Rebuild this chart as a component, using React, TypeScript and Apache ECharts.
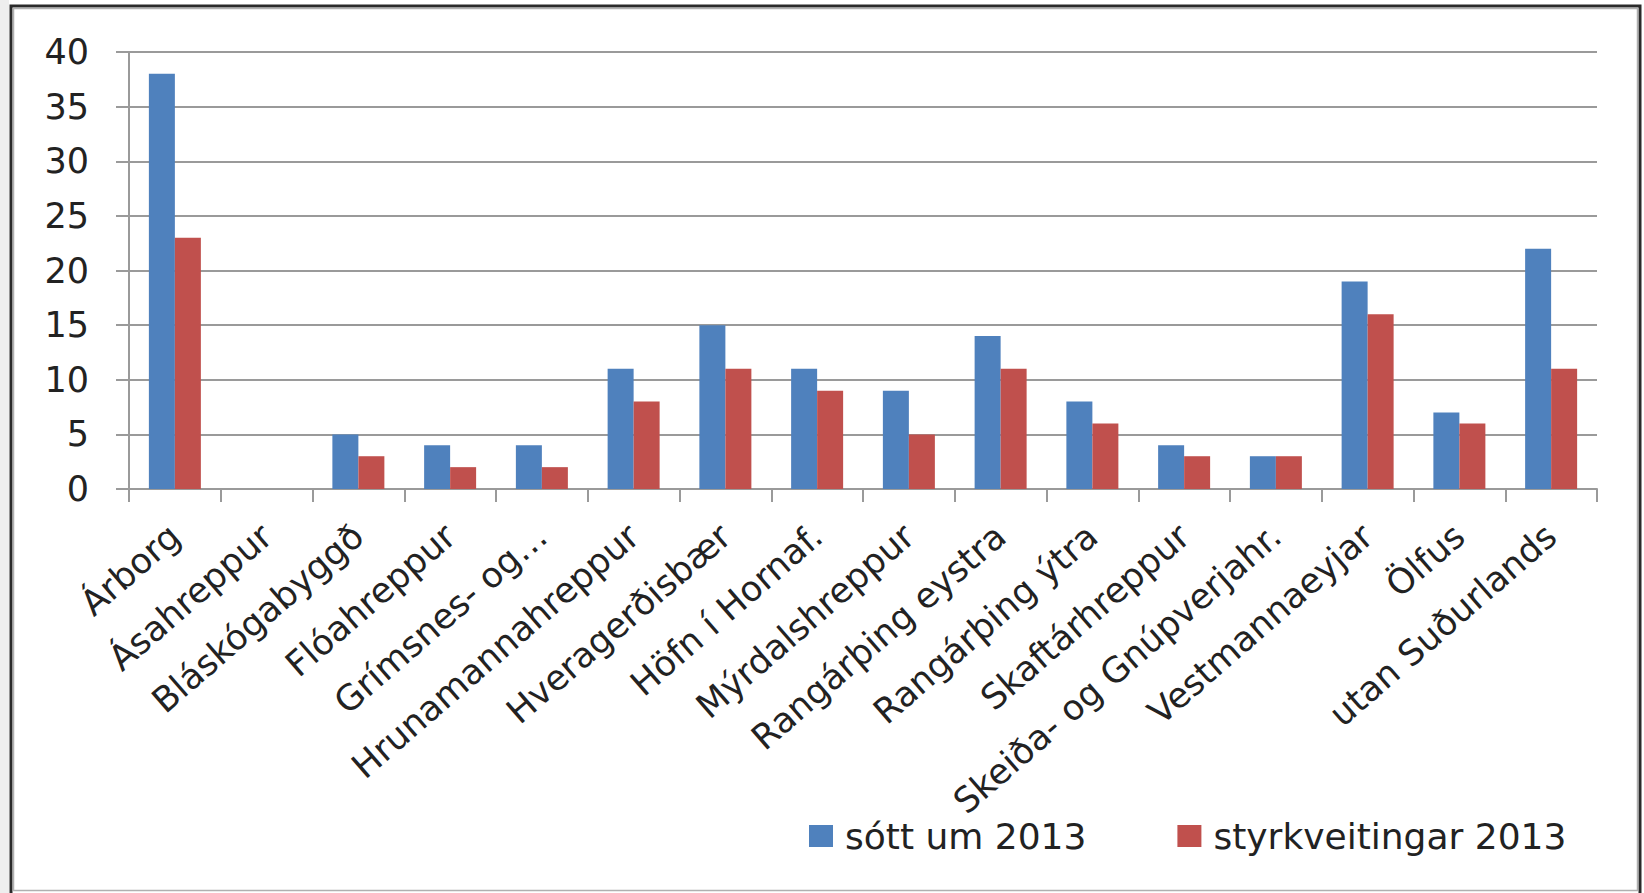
import React, { useEffect, useRef } from "react";
import * as echarts from "echarts";

const categories = [
  "Árborg",
  "Ásahreppur",
  "Bláskógabyggð",
  "Flóahreppur",
  "Grímsnes- og…",
  "Hrunamannahreppur",
  "Hveragerðisbær",
  "Höfn í Hornaf.",
  "Mýrdalshreppur",
  "Rangárþing eystra",
  "Rangárþing ýtra",
  "Skaftárhreppur",
  "Skeiða- og Gnúpverjahr.",
  "Vestmannaeyjar",
  "Ölfus",
  "utan Suðurlands",
];

const sottUm2013 = [38, 0, 5, 4, 4, 11, 15, 11, 9, 14, 8, 4, 3, 19, 7, 22];
const styrkveitingar2013 = [23, 0, 3, 2, 2, 8, 11, 9, 5, 11, 6, 3, 3, 16, 6, 11];

const seriesNames = ["sótt um 2013", "styrkveitingar 2013"];

const FONT = "'DejaVu Sans', Verdana, sans-serif";
const TEXT = "#222222";
const GRID = "#9a9a9a";

export default function App() {
  const ref = useRef<HTMLDivElement>(null);

  useEffect(() => {
    if (!ref.current) return;
    const chart = echarts.init(ref.current, undefined, { renderer: "svg" });
    chart.setOption({
      animation: false,
      backgroundColor: "#ffffff",
      textStyle: { fontFamily: FONT },
      grid: { left: 129, right: 47, top: 52, bottom: 404, containLabel: false },
      legend: {
        data: seriesNames,
        left: 809,
        top: 818,
        padding: 0,
        icon: "rect",
        itemWidth: 24,
        itemHeight: 22,
        itemGap: 91,
        textStyle: {
          fontFamily: FONT,
          fontSize: 36,
          color: TEXT,
          padding: [0, 0, 0, 7],
        },
      },
      xAxis: {
        type: "category",
        data: categories,
        boundaryGap: true,
        axisLine: { show: true, lineStyle: { color: GRID, width: 2 } },
        axisTick: {
          show: true,
          interval: 0,
          length: 13,
          lineStyle: { color: GRID, width: 2 },
        },
        axisLabel: {
          interval: 0,
          rotate: 41,
          margin: 42,
          fontFamily: FONT,
          fontSize: 35,
          color: TEXT,
        },
      },
      yAxis: {
        type: "value",
        min: 0,
        max: 40,
        interval: 5,
        axisLine: { show: true, lineStyle: { color: GRID, width: 2 } },
        axisTick: { show: true, length: 13, lineStyle: { color: GRID, width: 2 } },
        axisLabel: {
          margin: 40,
          fontFamily: FONT,
          fontSize: 35,
          color: TEXT,
        },
        splitLine: { show: true, lineStyle: { color: GRID, width: 2 } },
      },
      series: [
        {
          name: seriesNames[0],
          type: "bar",
          data: sottUm2013,
          barWidth: 26,
          barGap: "0%",
          itemStyle: { color: "#4F81BD" },
        },
        {
          name: seriesNames[1],
          type: "bar",
          data: styrkveitingar2013,
          barWidth: 26,
          barGap: "0%",
          itemStyle: { color: "#C0504D" },
        },
      ],
      graphic: [
        {
          type: "rect",
          left: 0,
          top: 0,
          shape: { width: 9, height: 893 },
          style: { fill: "#eeeeee" },
          silent: true,
        },
        {
          type: "rect",
          shape: { x: 11, y: 6, width: 1629, height: 890 },
          style: { fill: "none", stroke: "#2a2a2a", lineWidth: 3 },
          silent: true,
        },
        {
          type: "rect",
          shape: { x: 13.5, y: 8.5, width: 1624, height: 882 },
          style: { fill: "none", stroke: "#b0b0b0", lineWidth: 1.5 },
          silent: true,
        },
      ],
    });
    return () => chart.dispose();
  }, []);

  return (
    <div
      ref={ref}
      style={{ position: "absolute", left: 0, top: 0, width: 1644, height: 893 }}
    />
  );
}
